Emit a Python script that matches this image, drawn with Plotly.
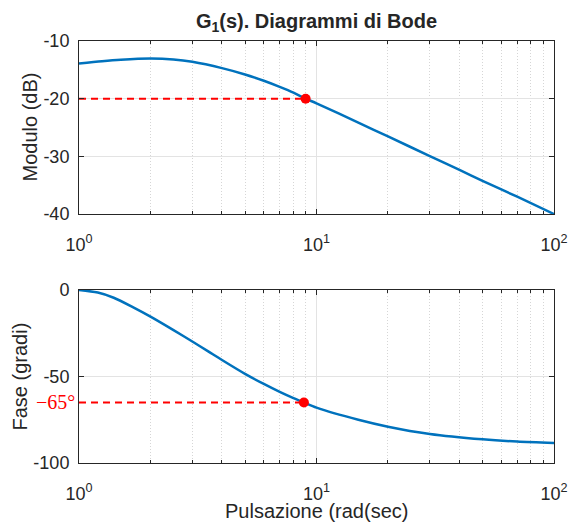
import plotly.graph_objects as go

# ---- data ----
w_mag = [1, 1.25, 1.5, 2, 2.5, 3, 4, 5, 6, 7, 8, 9, 10, 15, 20, 30, 40, 50, 70, 100]
mag_db = [-13.9, -13.5, -13.25, -13.05, -13.2, -13.6, -14.7, -15.8, -16.9, -17.95, -18.95, -20.0,
          -20.8, -24.15, -26.55, -29.95, -32.35, -34.25, -37.0, -40.0]

w_ph = [1, 1.2, 1.4, 1.7, 2, 2.5, 3, 3.5, 4, 5, 6, 7, 8, 8.85, 10, 15, 20, 30, 50, 70, 100]
phase_deg = [0, -1.5, -4.5, -10.2, -15.4, -23.2, -29.8, -35.5, -40.5, -48.5, -54.3, -58.9,
             -62.5, -65.0, -68.0, -75.0, -79.0, -83.2, -86.3, -87.6, -88.4]

mark_mag_w, mark_mag_v = 9.0, -20
mark_ph_w, mark_ph_v = 8.85, -65

x_tickvals = [1, 10, 100]
x_ticktext = ["10<sup>0</sup>", "10<sup>1</sup>", "10<sup>2</sup>"]
x_minor = [2, 3, 4, 5, 6, 7, 8, 9, 20, 30, 40, 50, 60, 70, 80, 90]
mag_ticks = [-40, -30, -20, -10]
mag_ticktext = ["-40", "-30", "-20", "-10"]
ph_ticks = [-100, -50, 0]
ph_ticktext = ["-100", "-50", "0"]

BLUE = "#0072BD"
RED = "#FF0000"
TXT = "#262626"
FONT = "Liberation Sans, Arial, sans-serif"

fig = go.Figure()

# magnitude
fig.add_trace(go.Scatter(x=w_mag, y=mag_db, mode="lines",
                         line=dict(color=BLUE, width=2.5, shape="spline", smoothing=0.8),
                         xaxis="x", yaxis="y", showlegend=False))
fig.add_trace(go.Scatter(x=[1, mark_mag_w], y=[mark_mag_v, mark_mag_v], mode="lines",
                         line=dict(color=RED, width=2, dash="7px,5px"), xaxis="x", yaxis="y", showlegend=False))
fig.add_trace(go.Scatter(x=[mark_mag_w], y=[mark_mag_v], mode="markers", marker=dict(color=RED, size=10),
                         xaxis="x", yaxis="y", showlegend=False))
# phase
fig.add_trace(go.Scatter(x=w_ph, y=phase_deg, mode="lines",
                         line=dict(color=BLUE, width=2.5, shape="spline", smoothing=0.8),
                         xaxis="x2", yaxis="y2", showlegend=False))
fig.add_trace(go.Scatter(x=[1, mark_ph_w], y=[mark_ph_v, mark_ph_v], mode="lines",
                         line=dict(color=RED, width=2, dash="7px,5px"), xaxis="x2", yaxis="y2", showlegend=False))
fig.add_trace(go.Scatter(x=[mark_ph_w], y=[mark_ph_v], mode="markers", marker=dict(color=RED, size=10),
                         xaxis="x2", yaxis="y2", showlegend=False))

def xax(anchor):
    return dict(type="log", range=[0, 2], anchor=anchor, tickmode="array", tickvals=x_tickvals,
                ticktext=x_ticktext, ticks="inside", ticklen=5, tickcolor=TXT, showline=True,
                linecolor=TXT, linewidth=1, mirror="allticks", showgrid=True, gridcolor="#e3e3e3",
                gridwidth=1, zeroline=False, ticklabelstandoff=14, automargin=False,
                tickfont=dict(family=FONT, size=18, color=TXT),
                minor=dict(tickmode="array", tickvals=x_minor, ticks="inside", ticklen=3, tickcolor=TXT,
                           showgrid=True, gridcolor="#d6d6d6", griddash="1px,2px", gridwidth=1))

def yax(rng, ticks, text, dom, anchor):
    return dict(range=rng, domain=dom, anchor=anchor, tickmode="array", tickvals=ticks, ticktext=text,
                ticks="inside", ticklen=5, tickcolor=TXT, showline=True, linecolor=TXT, linewidth=1,
                mirror="allticks", showgrid=True, gridcolor="#e3e3e3", gridwidth=1, zeroline=False,
                ticklabelstandoff=5, automargin=False, tickfont=dict(family=FONT, size=18, color=TXT))

fig.update_layout(
    width=569, height=528, autosize=False,
    margin=dict(l=79, r=15, t=41, b=65, autoexpand=False),
    paper_bgcolor="white", plot_bgcolor="white",
    xaxis=xax("y"), xaxis2=xax("y2"),
    yaxis=yax([-40, -10], mag_ticks, mag_ticktext, [0.590, 1.0], "x"),
    yaxis2=yax([-100, 0], ph_ticks, ph_ticktext, [0.0, 0.410], "x2"),
    title=dict(text="<b>G<sub>1</sub>(s). Diagrammi di Bode</b>", x=0.5, xref="paper",
               y=1 - 21 / 528, yref="container", xanchor="center", yanchor="middle",
               font=dict(family=FONT, size=20, color=TXT)),
    annotations=[
        dict(text="Modulo (dB)", x=0, xref="paper", xshift=-49, y=0.5, yref="y domain",
             textangle=-90, showarrow=False, xanchor="center", yanchor="middle",
             font=dict(family=FONT, size=20, color=TXT)),
        dict(text="Fase (gradi)", x=0, xref="paper", xshift=-59, y=0.5, yref="y2 domain",
             textangle=-90, showarrow=False, xanchor="center", yanchor="middle",
             font=dict(family=FONT, size=20, color=TXT)),
        dict(text="Pulsazione (rad(sec)", x=0.5, xref="paper", y=0, yref="paper", yshift=-48,
             showarrow=False, xanchor="center", yanchor="middle",
             font=dict(family=FONT, size=20, color=TXT)),
        dict(text="\u221265\u00b0", x=0, xref="paper", xshift=-2, y=mark_ph_v, yref="y2",
             showarrow=False, xanchor="right", yanchor="middle",
             font=dict(family="Liberation Serif, serif", size=20, color=RED)),
    ],
)

fig.write_html("out.html", config={"displayModeBar": False},
               post_script="document.body.style.margin='0';document.body.style.overflow='hidden';")
